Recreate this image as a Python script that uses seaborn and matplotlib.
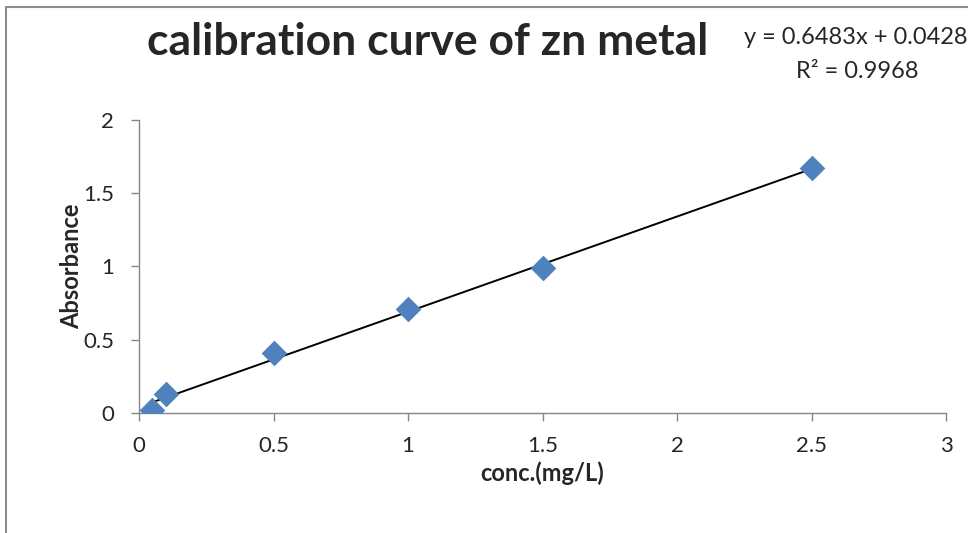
import numpy as np
import pandas as pd
import seaborn as sns
import matplotlib.pyplot as plt
from matplotlib.patches import Rectangle

# values
conc = [0.05, 0.1, 0.5, 1.0, 1.5, 2.5]
absorbance = [0.02, 0.13, 0.41, 0.712, 0.99, 1.672]
slope = 0.6483
intercept = 0.0428
r_squared = 0.9968
x_ticks = [0, 0.5, 1, 1.5, 2, 2.5, 3]
y_ticks = [0, 0.5, 1, 1.5, 2]

df = pd.DataFrame({'conc': conc, 'absorbance': absorbance})
x_fit = np.array([min(conc), max(conc)])
fit_df = pd.DataFrame({'conc': x_fit, 'absorbance': slope * x_fit + intercept})

sns.set_style('white')
plt.rcParams['font.family'] = ['Lato', 'DejaVu Sans']

fig = plt.figure(figsize=(9.68, 5.33), dpi=100)
ax = fig.add_axes([139 / 968, 1 - 413.3 / 533, (946 - 139) / 968, (413.3 - 119.5) / 533])

sns.lineplot(data=fit_df, x='conc', y='absorbance', ax=ax, color='black', linewidth=1.4)
sns.scatterplot(data=df, x='conc', y='absorbance', ax=ax, marker='D', s=170,
                color='#4F81BD', edgecolor='#4F81BD', linewidth=0, zorder=3)

ax.set_xlim(0, 3)
ax.set_ylim(0, 2)
ax.set_xticks(x_ticks)
ax.set_xticklabels([f'{t:g}' for t in x_ticks])
ax.set_yticks(y_ticks)
ax.set_yticklabels([f'{t:g}' for t in y_ticks])
ax.tick_params(axis='both', which='major', labelsize=16, length=6, width=1,
               color='#868686', direction='out', bottom=True, left=True)
ax.tick_params(axis='x', pad=10)
ax.tick_params(axis='y', pad=12)
for side in ['top', 'right']:
    ax.spines[side].set_visible(False)
for side in ['left', 'bottom']:
    ax.spines[side].set_color('#868686')
    ax.spines[side].set_linewidth(1)

ax.set_xlabel('conc.(mg/L)', fontsize=17, fontweight='bold', labelpad=4)
ax.set_ylabel('Absorbance', fontsize=17, fontweight='bold', labelpad=0)

fig.text(428 / 968, 1 - 42 / 533, 'calibration curve of zn metal', fontsize=32,
         fontweight='bold', ha='center', va='center')
fig.text(856 / 968, 1 - 37 / 533, f'y = {slope}x + {intercept}', fontsize=17,
         ha='center', va='center')
fig.text(857 / 968, 1 - 71 / 533, f'R² = {r_squared}', fontsize=17,
         ha='center', va='center')

# chart area frame
fig.add_artist(Rectangle((6 / 968, -0.2), 1.1, 1 - 7 / 533 + 0.2, transform=fig.transFigure,
                         fill=False, edgecolor='#8c8c8c', linewidth=1.5))

plt.savefig('out.png', dpi=100)
